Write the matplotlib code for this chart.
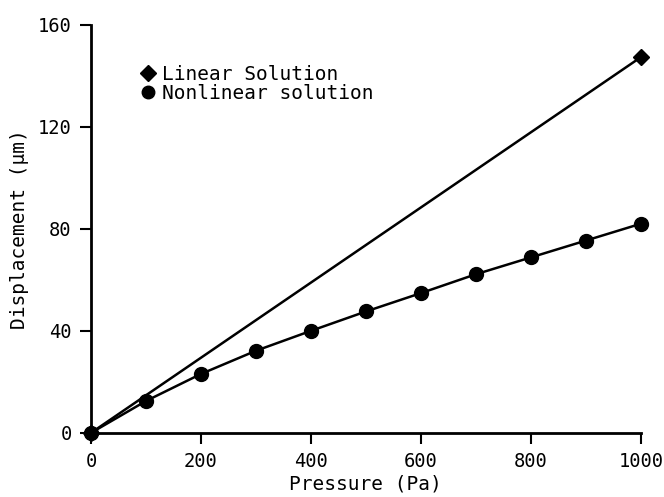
import matplotlib
matplotlib.use("Agg")
import matplotlib.pyplot as plt
from matplotlib.lines import Line2D

# data
pressure_lin = [0, 1000]
disp_lin = [0, 147.3]

pressure_nl = [0, 100, 200, 300, 400, 500, 600, 700, 800, 900, 1000]
disp_nl = [0, 12.5, 23.1, 32.2, 40.0, 47.6, 54.8, 62.2, 68.8, 75.4, 82.0]

xticks = [0, 200, 400, 600, 800, 1000]
yticks = [0, 40, 80, 120, 160]

plt.rcParams['font.family'] = 'DejaVu Sans Mono'

fig = plt.figure(figsize=(6.64, 4.97), dpi=100)
ax = fig.add_axes([0.137, 0.129, 0.828, 0.821])

ax.plot(pressure_lin, disp_lin, color='black', lw=1.8, marker='D', ms=8,
        zorder=3, clip_on=False)
ax.plot(pressure_nl, disp_nl, color='black', lw=1.8, marker='o', ms=10,
        zorder=3, clip_on=False)

ax.set_xlim(0, 1000)
ax.set_ylim(0, 160)
ax.set_xticks(xticks)
ax.set_yticks(yticks)
ax.tick_params(direction='out', length=8, width=1.5, labelsize=13.5, pad=6)

for s in ['top', 'right']:
    ax.spines[s].set_visible(False)
for s in ['left', 'bottom']:
    ax.spines[s].set_linewidth(2)

ax.set_xlabel('Pressure (Pa)', fontsize=14, labelpad=2)
ax.set_ylabel('Displacement (\u03bcm)', fontsize=14, labelpad=6)

# legend: markers only, no lines
handles = [
    Line2D([], [], color='black', marker='D', ls='none', ms=8),
    Line2D([], [], color='black', marker='o', ls='none', ms=9),
]
ax.legend(handles, ['Linear Solution', 'Nonlinear solution'],
          loc='upper left', bbox_to_anchor=(0.072, 0.925), frameon=False,
          fontsize=14, handlelength=0.8, handletextpad=0.3,
          labelspacing=0.0, borderpad=0)

fig.savefig('out.png', dpi=100)
